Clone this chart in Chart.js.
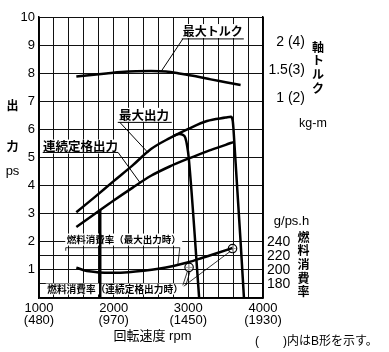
<!DOCTYPE html>
<html>
<head>
<meta charset="utf-8">
<script src="https://cdn.jsdelivr.net/npm/chart.js@4/dist/chart.umd.min.js"></script>
<style>
  html, body { margin: 0; padding: 0; background: #fff; }
  canvas { display: block; }
</style>
</head>
<body>
<canvas id="c" width="389" height="352"></canvas>
<script>
// ---------------- data ----------------
// engine speed (rpm) ticks, with B-type speeds in parentheses
const rpmTicks = [1000, 2000, 3000, 4000];
const rpmTicksB = ['(480)', '(970)', '(1450)', '(1930)'];
// output axis (ps)
const powerTicks = [1, 2, 3, 4, 5, 6, 7, 8, 9, 10];
const powerHalfGrid = [0.5, 1.5];
// shaft torque axis (kg-m), B-type values in parentheses
const torqueTicks = [1, 1.5, 2];
const torqueTickLabels = ['1 (2)', '1.5(3)', '2 (4)'];
// fuel consumption axis (g/ps.h)
const fuelTicks = [180, 200, 220, 240];

// 最大トルク (kg-m)
const rpmTorque = [1500, 1700, 1900, 2100, 2300, 2500, 2700, 2900, 3100, 3300, 3500, 3700];
const maxTorqueKgm = [1.44, 1.47, 1.495, 1.52, 1.535, 1.54, 1.53, 1.49, 1.445, 1.39, 1.34, 1.29];

// 最大出力 (ps) – B type, with governor drop
const rpmMaxPower = [1500, 1750, 2000, 2250, 2500, 2750, 3000, 3250, 3500, 3570, 3595, 3605, 3745];
const maxPowerPs = [3.05, 3.6, 4.16, 4.71, 5.3, 5.69, 6.02, 6.3, 6.42, 6.45, 6.3, 6.0, 0];

// 最大出力 – A type governor drop
const rpmMaxPowerA = [2800, 2880, 2930, 2960, 2985, 3005, 3145];
const maxPowerAPs = [5.77, 5.84, 5.8, 5.7, 5.4, 5.0, 0];

// 連続定格出力 (ps)
const rpmCont = [1500, 1750, 2000, 2250, 2500, 2750, 3000, 3250, 3500, 3600];
const contPs = [2.53, 3.0, 3.47, 3.92, 4.35, 4.68, 4.96, 5.22, 5.45, 5.55];

// low-speed limit line
const rpmLow = [1820, 1820];
const lowPs = [3.13, 0];

// 燃料消費率 (最大出力時) g/ps.h
const rpmFuel = [1500, 1600, 1700, 1800, 2000, 2200, 2400, 2600, 2800, 3000, 3200, 3400, 3590];
const fuelGph = [203.2, 199.6, 197.6, 196.4, 196, 196.8, 198.8, 201.6, 205.6, 210.8, 217.6, 224.4, 231.2];

// 燃料消費率 (連続定格出力時) points
const markRpm = [3010, 3592];
const markFuel = [203.6, 230.4];

// ---------------- helpers ----------------
const pts = (xs, ys) => xs.map((x, i) => ({ x: x, y: ys[i] }));
const LAT = "'Liberation Sans', 'DejaVu Sans', sans-serif";
const JP = "'Noto Sans CJK JP', 'Noto Sans CJK SC', sans-serif";
const MIX = "'Liberation Sans', 'Noto Sans CJK JP', sans-serif";

function textBox(ctx, text, x, y, font, h, bg) {
  ctx.font = font;
  const w = ctx.measureText(text).width;
  if (bg !== false) {
    ctx.fillStyle = '#fff';
    ctx.fillRect(x - w / 2 - 1.5, y - h / 2, w + 3, h);
  }
  ctx.fillStyle = '#000';
  ctx.textAlign = 'center';
  ctx.textBaseline = 'middle';
  ctx.fillText(text, x, y);
}
function seg(ctx, a, b, w) {
  ctx.beginPath();
  ctx.lineWidth = w;
  ctx.strokeStyle = '#000';
  ctx.moveTo(a[0], a[1]);
  ctx.lineTo(b[0], b[1]);
  ctx.stroke();
}

const annotations = {
  id: 'annotations',
  beforeDatasetsDraw(chart) {
    const ctx = chart.ctx;
    const xs = chart.scales.x, ys = chart.scales.y, yT = chart.scales.yT, yF = chart.scales.yF;
    const P = (r, v) => [xs.getPixelForValue(r), ys.getPixelForValue(v)];
    ctx.save();

    // 最大トルク
    let c = P(3328, 9.5);
    textBox(ctx, '最大トルク', c[0], c[1], 'bold 12px ' + JP, 14);
    seg(ctx, P(2912, 9.22), P(3743, 9.22), 1);
    seg(ctx, P(2926, 9.22), [xs.getPixelForValue(2640), yT.getPixelForValue(1.54)], 1);

    // 最大出力
    c = P(2405, 6.52);
    textBox(ctx, '最大出力', c[0], c[1], 'bold 12.5px ' + JP, 14);
    seg(ctx, P(2055, 6.25), P(2778, 6.25), 1);
    seg(ctx, P(2083, 6.25), P(2461, 5.17), 1);

    // 連続定格出力
    c = P(1555, 5.39);
    textBox(ctx, '連続定格出力', c[0], c[1], 'bold 12.5px ' + JP, 14);
    seg(ctx, P(1050, 5.18), P(2059, 5.18), 1);
    seg(ctx, P(2059, 5.18), P(2349, 4.12), 1);

    // 燃料消費率(最大出力時)
    c = P(2135, 2.08);
    textBox(ctx, '燃料消費率（最大出力時）', c[0], c[1], 'bold 9.5px ' + JP, 12);
    seg(ctx, P(1358, 1.68), P(1358, 1.79), 0.8);
    seg(ctx, P(1358, 1.79), P(2886, 1.79), 0.8);
    seg(ctx, P(2886, 1.79), P(2860, 1.2), 0.8);

    // 燃料消費率(連続定格出力時)
    c = P(2018, 0.32);
    textBox(ctx, '燃料消費率（連続定格出力時）', c[0], c[1], 'bold 9.7px ' + JP, 11);
    const cA = [xs.getPixelForValue(markRpm[0]), yF.getPixelForValue(markFuel[0])];
    const cB = [xs.getPixelForValue(markRpm[1]), yF.getPixelForValue(markFuel[1])];
    seg(ctx, P(2926, 0.45), [cA[0] - 1.5, cA[1] + 3.5], 0.8);
    seg(ctx, P(2966, 0.45), [cA[0] + 1, cA[1] + 4], 0.8);
    seg(ctx, P(2939, 0.42), [cB[0] - 2.5, cB[1] + 3], 0.8);

    ctx.restore();
  },
  afterDraw(chart) {
    const ctx = chart.ctx;
    const a = chart.chartArea;
    const yT = chart.scales.yT;
    ctx.save();
    // torque tick labels (right side, right-aligned)
    ctx.font = '14px ' + LAT;
    ctx.fillStyle = '#000';
    ctx.textAlign = 'right';
    ctx.textBaseline = 'middle';
    torqueTicks.forEach((v, i) => {
      ctx.fillText(torqueTickLabels[i], a.right + 42, yT.getPixelForValue(v) - 3);
    });
    // left axis title
    textBox(ctx, '出', a.left - 26.5, 105, 'bold 12px ' + JP, 14, false);
    textBox(ctx, '力', a.left - 26.5, 146.5, 'bold 12px ' + JP, 14, false);
    textBox(ctx, 'ps', a.left - 26.5, 171, '13px ' + LAT, 14, false);
    // right torque title (vertical)
    const tx = a.right + 55;
    ['軸', 'ト', 'ル', 'ク'].forEach((ch, i) => {
      textBox(ctx, ch, tx, 47 + i * 13.8, 'bold 12px ' + JP, 14, false);
    });
    textBox(ctx, 'kg-m', a.right + 50, 123.5, '12.5px ' + LAT, 14, false);
    // right fuel title
    textBox(ctx, 'g/ps.h', a.right + 28.5, 221.5, '13px ' + LAT, 14, false);
    ['燃', '料', '消', '費', '率'].forEach((ch, i) => {
      textBox(ctx, ch, a.right + 40.5, 237 + i * 13.7, 'bold 12px ' + JP, 14, false);
    });
    // x axis title
    textBox(ctx, '回転速度 rpm', 152.5, 336, '13px ' + MIX, 14, false);
    // note
    ctx.font = '12px ' + MIX;
    ctx.fillStyle = '#000';
    ctx.textAlign = 'left';
    ctx.textBaseline = 'middle';
    ctx.fillText('(', 255, 341.5);
    ctx.fillText(')内はB形を示す。', 283, 341.5);
    ctx.restore();
  }
};

const lineDs = (data, axis, w) => ({
  data: data, yAxisID: axis, borderColor: '#000', borderWidth: w,
  pointRadius: 0, fill: false, cubicInterpolationMode: 'monotone', tension: 0.4
});

new Chart(document.getElementById('c').getContext('2d'), {
  type: 'line',
  data: {
    datasets: [
      lineDs(pts(rpmTorque, maxTorqueKgm), 'yT', 2.5),
      lineDs(pts(rpmMaxPower, maxPowerPs), 'y', 2.5),
      lineDs(pts(rpmMaxPowerA, maxPowerAPs), 'y', 2.5),
      lineDs(pts(rpmCont, contPs), 'y', 2.5),
      Object.assign(lineDs(pts(rpmLow, lowPs), 'y', 2.5), { cubicInterpolationMode: 'default', tension: 0 }),
      lineDs(pts(rpmFuel, fuelGph), 'yF', 2.5),
      {
        data: pts(markRpm, markFuel), yAxisID: 'yF', showLine: false,
        pointStyle: 'circle', pointRadius: 4.2, pointBorderWidth: 1.2,
        pointBorderColor: '#000', pointBackgroundColor: 'rgba(255,255,255,0.6)'
      },
      {
        data: pts(markRpm, markFuel), yAxisID: 'yF', showLine: false,
        pointStyle: 'cross', pointRadius: 3.2, pointBorderWidth: 1,
        pointBorderColor: '#000'
      }
    ]
  },
  options: {
    responsive: false,
    animation: false,
    devicePixelRatio: 1,
    layout: { padding: { top: 17, left: 0, right: 0, bottom: 0 } },
    plugins: { legend: { display: false }, tooltip: { enabled: false } },
    scales: {
      x: {
        type: 'linear', min: 1000, max: 4000,
        ticks: {
          stepSize: 200, autoSkip: false, maxRotation: 0, padding: 4,
          color: '#000', font: { family: LAT, size: 13, lineHeight: '12px' },
          callback: (v) => {
            const i = rpmTicks.indexOf(v);
            return i >= 0 ? [String(v), rpmTicksB[i]] : '';
          }
        },
        grid: { color: '#111', lineWidth: 1, drawTicks: false },
        border: { color: '#000', width: 1.5 },
        afterFit: (s) => { s.height = 54; }
      },
      y: {
        position: 'left', min: 0, max: 10,
        afterBuildTicks: (s) => {
          s.ticks = [0].concat(powerHalfGrid, powerTicks).sort((p, q) => p - q).map(v => ({ value: v }));
        },
        ticks: {
          padding: 4, color: '#000', font: { family: LAT, size: 13 },
          callback: (v) => powerTicks.includes(v) ? String(v) : ''
        },
        grid: { color: '#111', lineWidth: 1, drawTicks: false },
        border: { color: '#000', width: 1.5 },
        afterFit: (s) => { s.width = 39; }
      },
      yF: {
        position: 'right', weight: 0, min: 160, max: 560,
        afterBuildTicks: (s) => { s.ticks = fuelTicks.map(v => ({ value: v })); },
        ticks: {
          padding: 4, crossAlign: 'near', color: '#000', font: { family: LAT, size: 14 },
          callback: (v) => String(v)
        },
        grid: { display: false, drawTicks: false },
        border: { color: '#000', width: 1.5 },
        afterFit: (s) => { s.width = 126; }
      },
      yT: {
        display: false, position: 'right', min: -2.5, max: 2.5
      }
    }
  },
  plugins: [annotations]
});
</script>
</body>
</html>
